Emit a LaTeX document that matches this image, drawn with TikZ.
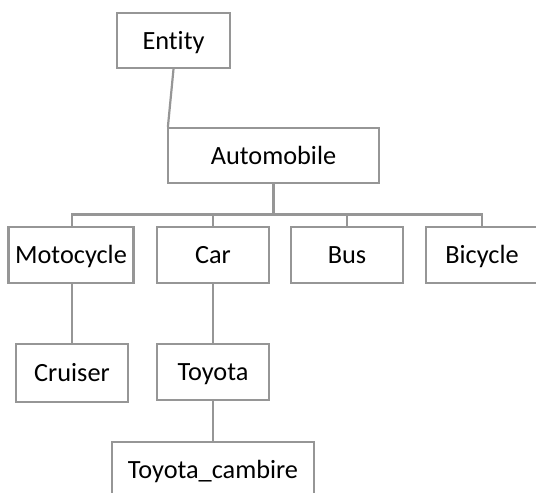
\documentclass[tikz,border=0pt]{standalone}
\usepackage{fontspec}
\setmainfont[Ligatures=NoCommon]{Carlito}
\definecolor{linegray}{RGB}{150,150,150}
\begin{document}
\begin{tikzpicture}[x=1pt,y=-1pt,
  box/.style={draw=linegray, line width=2.2pt, fill=white, inner sep=0pt,
    minimum height=55pt, text height=17pt, text depth=0pt,
    font=\fontsize{26.3}{30}\selectfont},
  conn/.style={draw=linegray, line width=2.2pt}]
\useasboundingbox (0,0) rectangle (536,493);
\clip (0,0) rectangle (536,493);
% boxes
\node[box, minimum width=113pt] (entity) at (173.5,40.5) {Entity};
\node[box, minimum width=211pt] (auto) at (273.5,155.5) {Automobile};
\node[box, minimum width=125pt, minimum height=56pt] (moto) at (71,255) {Motocycle};
\node[box, minimum width=112pt, minimum height=56pt] (car) at (213,255) {Car};
\node[box, minimum width=112pt, minimum height=56pt] (bus) at (347,255) {Bus};
\node[box, minimum width=112pt, minimum height=56pt] (bike) at (482,255) {Bicycle};
\node[box, minimum width=112pt, minimum height=58pt] (cruiser) at (72,373) {Cruiser};
\node[box, minimum width=112pt, minimum height=56pt] (toyota) at (213,372) {Toyota};
\node[box, minimum width=202pt, minimum height=56pt] (camb) at (213,470) {Toyota\_cambire};
% connectors
\coordinate (autoin) at ([xshift=1pt]auto.north west);
\draw[conn] (entity.south) -- (autoin);
\coordinate (busy) at (273.5,214.5);
\draw[conn] (auto.south) -- (busy);
\coordinate (mototop) at (moto.north -| cruiser.north);
\draw[conn, line join=miter] (mototop) |- (busy) -| (bike.north);
\draw[conn] (car.north) -- (car.north |- busy);
\draw[conn] (bus.north) -- (bus.north |- busy);
\draw[conn] (cruiser.north |- moto.south) -- (cruiser.north);
\draw[conn] (car.south) -- (toyota.north);
\draw[conn] (toyota.south) -- (camb.north);
\end{tikzpicture}
\end{document}
